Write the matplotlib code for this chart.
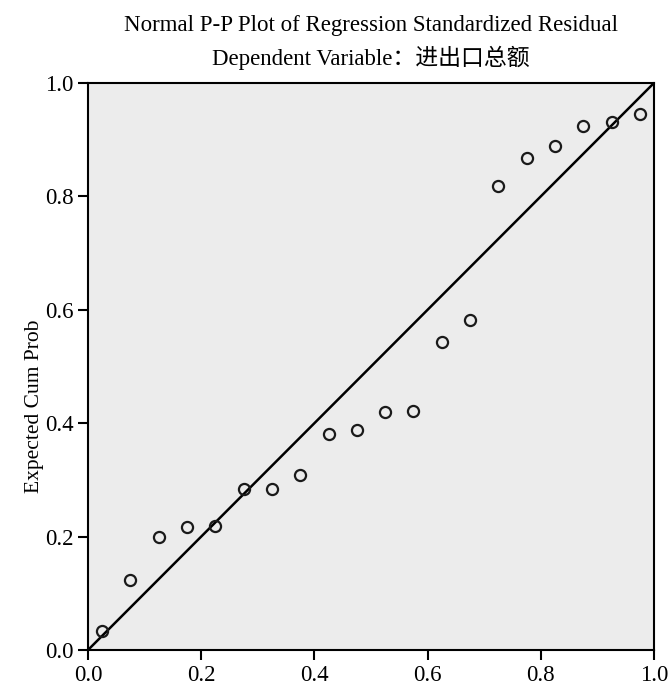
import numpy as np
import matplotlib
matplotlib.use('Agg')
import matplotlib.pyplot as plt

plt.rcParams['font.family'] = ['Liberation Serif', 'Noto Sans CJK SC']

# Observed cumulative probability (x) and expected cumulative probability (y)
observed = [0.025, 0.075, 0.125, 0.175, 0.225, 0.275, 0.325, 0.375, 0.425, 0.475,
            0.525, 0.575, 0.625, 0.675, 0.725, 0.775, 0.825, 0.875, 0.925, 0.975]
expected = [0.034, 0.123, 0.199, 0.217, 0.219, 0.284, 0.284, 0.309, 0.381, 0.388,
            0.420, 0.421, 0.543, 0.582, 0.818, 0.868, 0.889, 0.924, 0.931, 0.945]
ticks = [0.0, 0.2, 0.4, 0.6, 0.8, 1.0]

fig = plt.figure(figsize=(6.7, 6.88), dpi=100)
ax = fig.add_axes([0.1313, 0.0552, 0.8448, 0.8242])
ax.set_facecolor('#ececec')

ax.plot([0, 1], [0, 1], color='black', lw=1.8, zorder=2)
ax.plot(observed, expected, 'o', ms=8, mfc='none', mec='#1a1a1a', mew=1.6, zorder=3)

ax.set_xlim(0, 1)
ax.set_ylim(0, 1)
ax.set_xticks(ticks)
ax.set_yticks(ticks)
ax.set_xticklabels(['%.1f' % t for t in ticks])
ax.set_yticklabels(['%.1f' % t for t in ticks])
ax.tick_params(direction='out', length=7.5, width=1.5, labelsize=16.5, pad=3)
for s in ax.spines.values():
    s.set_linewidth(1.5)

ax.set_ylabel('Expected Cum Prob', fontsize=15.5)
ax.yaxis.set_label_coords(-0.078, 0.43)

fig.text(0.553, 0.963, 'Normal P-P Plot of Regression Standardized Residual',
         ha='center', va='center', fontsize=16.5)
fig.text(0.553, 0.916, 'Dependent Variable：进出口总额',
         ha='center', va='center', fontsize=16.5)

fig.savefig('out.png', dpi=100)
